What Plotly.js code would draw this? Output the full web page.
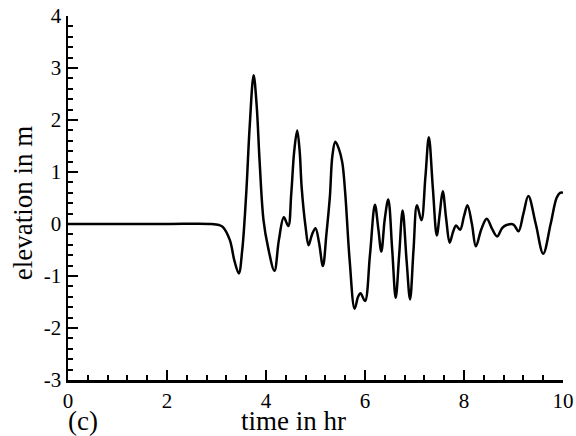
<!DOCTYPE html>
<html>
<head>
<meta charset="utf-8">
<script src="https://cdn.plot.ly/plotly-3.0.1.min.js"></script>
<style>html,body{margin:0;padding:0;background:#fff;}#chart{width:576px;height:436px;}</style>
</head>
<body>
<div id="chart"></div>
<script>
const timeHr = [0,1,2,2.9,3.05,3.13,3.27,3.36,3.45,3.52,3.60,3.67,3.75,3.81,3.87,3.95,4.04,4.17,4.26,4.36,4.45,4.51,4.57,4.63,4.68,4.72,4.80,4.86,4.93,5.00,5.07,5.15,5.22,5.29,5.34,5.40,5.47,5.54,5.60,5.69,5.79,5.86,5.91,6.00,6.10,6.20,6.27,6.33,6.40,6.47,6.55,6.62,6.69,6.76,6.84,6.91,6.98,7.05,7.14,7.22,7.29,7.37,7.45,7.51,7.57,7.64,7.71,7.78,7.84,7.92,8.0,8.07,8.16,8.24,8.35,8.46,8.57,8.67,8.77,8.86,9.0,9.10,9.20,9.30,9.45,9.60,9.75,9.87,9.94,10.0];
const elevation = [0,0,0,0,-0.02,-0.06,-0.31,-0.7,-0.95,-0.5,0.58,1.87,2.86,2.3,1.22,0.07,-0.44,-0.90,-0.31,0.13,-0.04,0.58,1.4,1.80,1.4,0.71,-0.06,-0.41,-0.2,-0.08,-0.35,-0.81,-0.2,0.52,1.3,1.58,1.45,1.19,0.6,-0.70,-1.63,-1.4,-1.33,-1.48,-0.6,0.37,-0.1,-0.53,0.1,0.47,-0.5,-1.42,-0.6,0.26,-0.7,-1.45,-0.5,0.36,0.07,0.9,1.67,0.7,-0.22,0.2,0.63,0.1,-0.36,-0.15,-0.03,-0.11,0.15,0.36,0.0,-0.43,-0.1,0.10,-0.1,-0.24,-0.08,-0.02,-0.01,-0.14,0.2,0.54,0.0,-0.57,0.0,0.5,0.60,0.60];
const xTickVals = [0,2,4,6,8,10];
const yTickVals = [-3,-2,-1,0,1,2,3,4];
const xTitle = 'time in hr';
const yTitle = 'elevation in m';
const panelLabel = '(c)';

const serif = 'Liberation Serif';
const layout = {
  width: 576, height: 436,
  margin: {l: 68, r: 13, t: 16, b: 56},
  paper_bgcolor: 'white', plot_bgcolor: 'white',
  font: {family: serif, size: 21, color: 'black'},
  showlegend: false,
  xaxis: {
    range: [0, 10], tickmode: 'array', tickvals: xTickVals, ticktext: xTickVals.map(String),
    showline: true, linecolor: 'black', linewidth: 2.5,
    ticks: 'inside', ticklen: 10, tickwidth: 2, tickcolor: 'black',
    showgrid: false, zeroline: false,
    tickfont: {family: serif, size: 21, color: 'black'},
    minor: {ticks: 'inside', ticklen: 5, tickwidth: 2, tickcolor: 'black', dtick: 0.4, tick0: 0, showgrid: false}
  },
  yaxis: {
    range: [-3, 4], tickmode: 'array', tickvals: yTickVals, ticktext: yTickVals.map(String),
    showline: true, linecolor: 'black', linewidth: 2.5,
    ticks: 'inside', ticklen: 10, tickwidth: 2, tickcolor: 'black',
    showgrid: false, zeroline: false,
    tickfont: {family: serif, size: 21, color: 'black'},
    minor: {ticks: 'inside', ticklen: 5, tickwidth: 2, tickcolor: 'black', dtick: 0.2, tick0: 0, showgrid: false}
  },
  annotations: [
    {text: xTitle, xref: 'paper', yref: 'paper', x: 0.456, y: -0.113, xanchor: 'center', yanchor: 'middle', showarrow: false, font: {family: serif, size: 27, color: 'black'}},
    {text: yTitle, xref: 'paper', yref: 'paper', x: -0.092, y: 0.487, xanchor: 'center', yanchor: 'middle', textangle: -90, showarrow: false, font: {family: serif, size: 27, color: 'black'}},
    {text: panelLabel, xref: 'paper', yref: 'paper', x: 0.031, y: -0.113, xanchor: 'center', yanchor: 'middle', showarrow: false, font: {family: serif, size: 27, color: 'black'}}
  ]
};
const trace = {
  x: timeHr, y: elevation, type: 'scatter', mode: 'lines',
  line: {color: 'black', width: 2.5, shape: 'spline', smoothing: 1},
  hoverinfo: 'skip'
};
Plotly.newPlot('chart', [trace], layout, {displayModeBar: false, staticPlot: true});
</script>
</body>
</html>
